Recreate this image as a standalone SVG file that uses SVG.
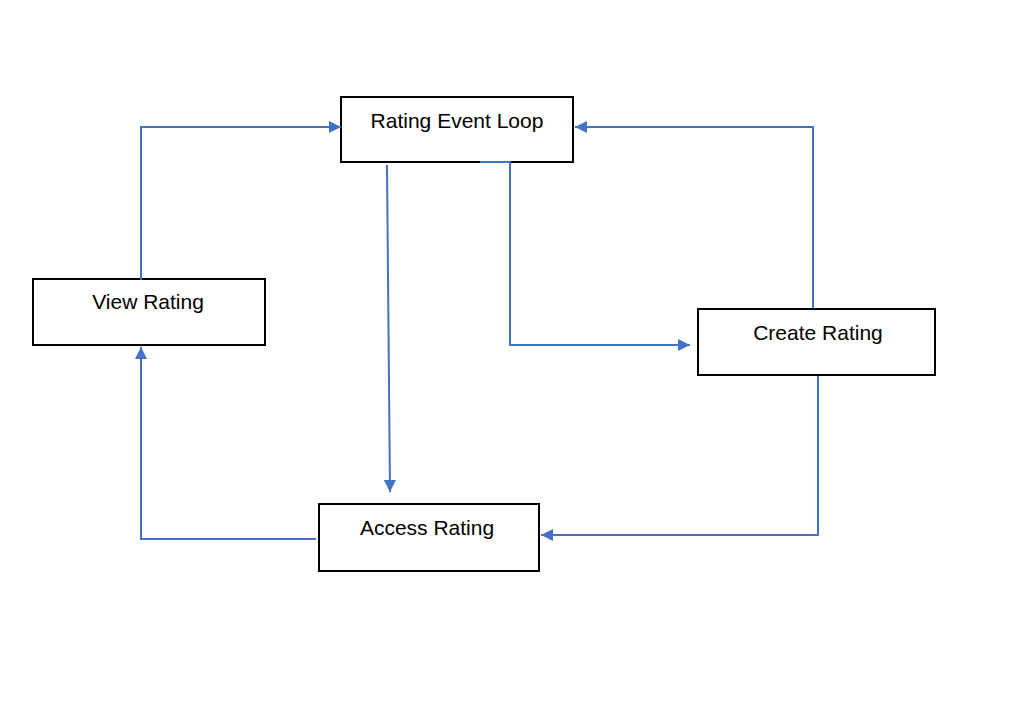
<svg xmlns="http://www.w3.org/2000/svg" width="1010" height="710" viewBox="0 0 1010 710">
<style>
.box{fill:#fff;stroke:#000;stroke-width:2}
.lbl{font-family:"Liberation Sans","DejaVu Sans",sans-serif;font-size:21px;fill:#000;text-anchor:middle}
.con{fill:none;stroke:#4472C4;stroke-width:2}
</style>
<defs>
<marker id="arr" viewBox="0 0 12 12" refX="12" refY="6" markerWidth="12" markerHeight="12" markerUnits="userSpaceOnUse" orient="auto">
<path d="M0,0 L12,6 L0,12 z" fill="#4472C4"/>
</marker>
</defs>
<rect width="1010" height="710" fill="#fff"/>
<g id="node-rel">
<rect class="box" x="341" y="97" width="232" height="65"/>
<text class="lbl" x="457" y="128">Rating Event Loop</text>
</g>
<g id="node-view">
<rect class="box" x="33" y="279" width="232" height="66"/>
<text class="lbl" x="148" y="309">View Rating</text>
</g>
<g id="node-create">
<rect class="box" x="698" y="309" width="237" height="66"/>
<text class="lbl" x="818" y="340">Create Rating</text>
</g>
<g id="node-access">
<rect class="box" x="319" y="504" width="220" height="67"/>
<text class="lbl" x="427" y="535">Access Rating</text>
</g>
<g id="connectors">
<path class="con" d="M141,280 V127 H341" marker-end="url(#arr)"/>
<path class="con" d="M813,308 V127 H575" marker-end="url(#arr)"/>
<path class="con" d="M387,165 L390,492" marker-end="url(#arr)"/>
<path class="con" d="M480,162 H510 V345 H690" marker-end="url(#arr)"/>
<path class="con" d="M818,376 V535 H541" stroke-width="1.5" marker-end="url(#arr)"/>
<path class="con" d="M316,539 H141 V347" marker-end="url(#arr)"/>
</g>
</svg>
